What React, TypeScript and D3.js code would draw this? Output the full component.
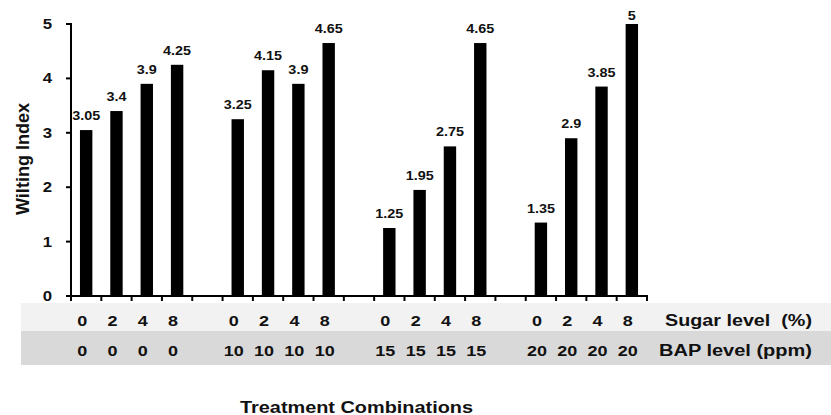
import React from "react";
import * as d3 from "d3";

const sugarLevels = ["0", "2", "4", "8"];
const bapLevels = ["0", "10", "15", "20"];
const wiltingValues = [
  [3.05, 3.4, 3.9, 4.25],
  [3.25, 4.15, 3.9, 4.65],
  [1.25, 1.95, 2.75, 4.65],
  [1.35, 2.9, 3.85, 5],
];
const yTicks = [0, 1, 2, 3, 4, 5];
const yLabel = "Wilting Index";
const xTitle = "Treatment Combinations";
const sugarRowLabel = "Sugar level  (%)";
const bapRowLabel = "BAP level (ppm)";

const W = 831;
const H = 415;
const FONT = "'Liberation Sans', Arial, Helvetica, sans-serif";
const SX = 1.2;

export default function App() {
  const slots: { g: number; i: number; key: string }[] = [];
  const allSlots: string[] = [];
  wiltingValues.forEach((grp, g) => {
    grp.forEach((_, i) => {
      const key = `${g}-${i}`;
      slots.push({ g, i, key });
      allSlots.push(key);
    });
    if (g < wiltingValues.length - 1) allSlots.push(`gap-${g}`);
  });

  const x = d3.scaleBand<string>().domain(allSlots).range([71, 647]).padding(0);
  const y = d3.scaleLinear().domain([0, 5]).range([296, 24]);
  const bw = x.bandwidth();
  const barW = 12.4;
  const ticksX = allSlots.map((s) => x(s) as number).concat([647]);

  const stretched = (
    tx: number,
    ty: number,
    text: string,
    size: number,
    anchor: string,
    key?: string
  ) => (
    <text
      key={key}
      transform={`translate(${tx},${ty}) scale(${SX},1)`}
      fontFamily={FONT}
      fontWeight="bold"
      fontSize={size}
      textAnchor={anchor}
      fill="#111"
    >
      {text}
    </text>
  );

  return (
    <svg
      width={W}
      height={H}
      style={{ position: "absolute", left: 0, top: 0, background: "#fff" }}
    >
      {/* table rows */}
      <rect x={21} y={303} width={W - 21} height={28} fill="#f2f2f2" />
      <rect x={21} y={331} width={W - 21} height={34} fill="#d9d9d9" />

      {/* bars */}
      {slots.map((s) => {
        const v = wiltingValues[s.g][s.i];
        const cx = (x(s.key) as number) + bw / 2;
        return (
          <rect
            key={s.key}
            x={cx - barW / 2}
            y={y(v)}
            width={barW}
            height={y(0) - y(v)}
            fill="#000"
          />
        );
      })}

      {/* value labels */}
      {slots.map((s) => {
        const v = wiltingValues[s.g][s.i];
        const cx = (x(s.key) as number) + bw / 2;
        const ty = Math.max(y(v) - 10, 20);
        return stretched(cx, ty, String(v), 12, "middle", "v" + s.key);
      })}

      {/* axes */}
      <g stroke="#000" strokeWidth={2} fill="none">
        <line x1={71} y1={23} x2={71} y2={301} />
        <line x1={70} y1={296} x2={648} y2={296} />
        {yTicks.map((t) => (
          <line key={"yt" + t} x1={66} y1={y(t)} x2={71} y2={y(t)} />
        ))}
        {ticksX.map((tx, i) => (
          <line key={"xt" + i} x1={tx} y1={296} x2={tx} y2={301} />
        ))}
      </g>

      {/* y tick labels */}
      {yTicks.map((t) => stretched(52, y(t) + 5, String(t), 14, "end", "yl" + t))}

      {/* y axis label */}
      <text
        transform={`translate(28.5,159) scale(${SX},1) rotate(-90)`}
        fontFamily={FONT}
        fontWeight="bold"
        fontSize={15}
        textAnchor="middle"
        fill="#111"
        textLength={112}
        lengthAdjust="spacingAndGlyphs"
      >
        {yLabel}
      </text>

      {/* category rows */}
      {slots.map((s) => {
        const cx = (x(s.key) as number) + bw / 2 - 4;
        return (
          <g key={"c" + s.key}>
            {stretched(cx, 326, sugarLevels[s.i], 15, "middle")}
            {stretched(cx, 355.5, bapLevels[s.g], 15, "middle")}
          </g>
        );
      })}
      <text
        x={812}
        y={326}
        fontFamily={FONT}
        fontWeight="bold"
        fontSize={16}
        textAnchor="end"
        fill="#111"
        textLength={147}
        lengthAdjust="spacingAndGlyphs"
        style={{ whiteSpace: "pre" }}
      >
        {sugarRowLabel}
      </text>
      <text
        x={812}
        y={355.5}
        fontFamily={FONT}
        fontWeight="bold"
        fontSize={16}
        textAnchor="end"
        fill="#111"
        textLength={153}
        lengthAdjust="spacingAndGlyphs"
      >
        {bapRowLabel}
      </text>

      {/* x title */}
      <text
        x={240}
        y={412.5}
        fontFamily={FONT}
        fontWeight="bold"
        fontSize={17}
        fill="#111"
        textLength={233}
        lengthAdjust="spacingAndGlyphs"
      >
        {xTitle}
      </text>
    </svg>
  );
}
